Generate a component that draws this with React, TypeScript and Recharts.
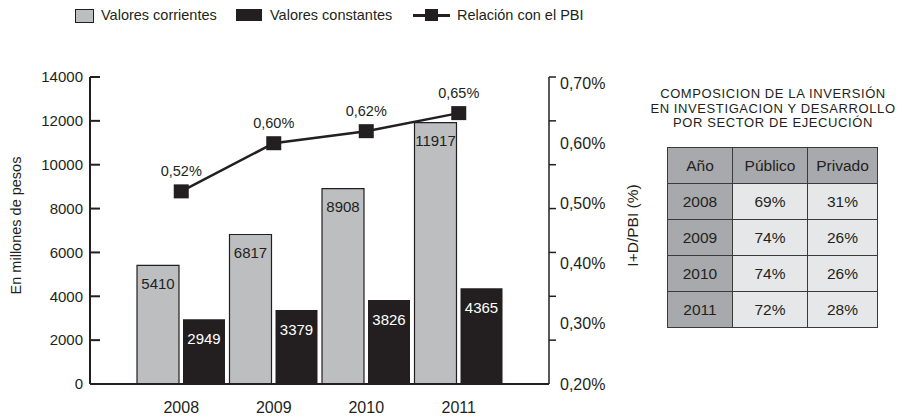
import React from 'react';
import { ComposedChart, Bar, Line, XAxis, YAxis, LabelList, Label } from 'recharts';

const years = ['2008', '2009', '2010', '2011'];
const valoresCorrientes = [5410, 6817, 8908, 11917];
const valoresConstantes = [2949, 3379, 3826, 4365];
const relacionPBI = [0.52, 0.6, 0.62, 0.65];

const leftTicks = [0, 2000, 4000, 6000, 8000, 10000, 12000, 14000];
const rightTicks = [0.2, 0.3, 0.4, 0.5, 0.6, 0.7];

const legendLabels = ['Valores corrientes', 'Valores constantes', 'Relación con el PBI'];

const tablaTitulo = [
  'COMPOSICION DE LA INVERSIÓN',
  'EN INVESTIGACION Y DESARROLLO',
  'POR SECTOR DE EJECUCIÓN',
];
const tablaEncabezados = ['Año', 'Público', 'Privado'];
const tablaAnios = ['2008', '2009', '2010', '2011'];
const tablaPublico = ['69%', '74%', '74%', '72%'];
const tablaPrivado = ['31%', '26%', '26%', '28%'];

const data = years.map((y, i) => ({
  year: y,
  corrientes: valoresCorrientes[i],
  constantes: valoresConstantes[i],
  pbi: relacionPBI[i],
}));

const INK = '#231f20';
const LIGHT = '#bcbec0';
const FONT = '"Liberation Sans", Arial, Helvetica, sans-serif';

const W = 906;
const H = 418;
const MARGIN = { top: 77, right: 267, bottom: 4, left: 5 };
const LEFT_AXIS_W = 85;
const RIGHT_AXIS_W = 90;
const PLOT_RIGHT = W - MARGIN.right - RIGHT_AXIS_W;
const LEFT_TICK_MARGIN = 7;

const fmtPct = (v: number) => v.toFixed(2).replace('.', ',') + '%';

const LeftTick = (props: any) => {
  const { x, y, payload } = props;
  const ax = x + LEFT_TICK_MARGIN;
  return (
    <g>
      <line x1={ax} x2={ax + 10} y1={y} y2={y} stroke={INK} strokeWidth={2} />
      {payload.value !== 0 && (
        <line x1={PLOT_RIGHT} x2={PLOT_RIGHT + 7} y1={y} y2={y} stroke={INK} strokeWidth={1.5} />
      )}
      <text x={x} y={y} dy="0.355em" textAnchor="end" fontSize={15} fill={INK} fontFamily={FONT}>
        {payload.value}
      </text>
    </g>
  );
};

const RightTick = (props: any) => {
  const { x, y, payload } = props;
  return (
    <text x={x} y={y} dy="0.355em" textAnchor="start" fontSize={16} fill={INK} fontFamily={FONT}>
      {fmtPct(payload.value)}
    </text>
  );
};

const SquareDot = (props: any) => {
  const { cx, cy, index } = props;
  if (cx == null || cy == null) return <g key={index} />;
  return <rect key={index} x={cx - 7.5} y={cy - 7} width={15} height={14} fill={INK} />;
};

const Legend = () => (
  <div
    style={{
      position: 'absolute',
      left: 0,
      top: 0,
      width: 700,
      height: 30,
      fontFamily: FONT,
      fontSize: 14.5,
      color: INK,
    }}
  >
    <div style={{ position: 'absolute', left: 75, top: 9, width: 17, height: 12, background: LIGHT, border: `1px solid ${INK}` }} />
    <div style={{ position: 'absolute', left: 101, top: 7, lineHeight: '17px', whiteSpace: 'nowrap' }}>{legendLabels[0]}</div>
    <div style={{ position: 'absolute', left: 236, top: 9, width: 26, height: 12, background: INK }} />
    <div style={{ position: 'absolute', left: 270, top: 7, lineHeight: '17px', whiteSpace: 'nowrap' }}>{legendLabels[1]}</div>
    <div style={{ position: 'absolute', left: 413, top: 14, width: 37, height: 2.5, background: INK }} />
    <div style={{ position: 'absolute', left: 425, top: 9, width: 13, height: 12, background: INK }} />
    <div style={{ position: 'absolute', left: 457, top: 7, lineHeight: '17px', whiteSpace: 'nowrap' }}>{legendLabels[2]}</div>
  </div>
);

const cellBase: React.CSSProperties = {
  border: '1.5px solid #3a3a3a',
  textAlign: 'center',
  height: 35,
  padding: 0,
  fontSize: 15.5,
  color: INK,
};

const Tabla = () => (
  <div style={{ position: 'absolute', left: 640, top: 0, width: 266, fontFamily: FONT, color: INK }}>
    <div
      style={{
        position: 'absolute',
        left: 0,
        top: 87,
        width: 266,
        textAlign: 'center',
        fontSize: 13,
        lineHeight: '14.5px',
        letterSpacing: '0.6px',
        whiteSpace: 'nowrap',
      }}
    >
      {tablaTitulo.map((t) => (
        <div key={t}>{t}</div>
      ))}
    </div>
    <table
      style={{
        position: 'absolute',
        left: 27,
        top: 147,
        borderCollapse: 'collapse',
        fontFamily: FONT,
      }}
    >
      <colgroup>
        <col style={{ width: 65 }} />
        <col style={{ width: 75 }} />
        <col style={{ width: 70 }} />
      </colgroup>
      <thead>
        <tr>
          {tablaEncabezados.map((h) => (
            <td key={h} style={{ ...cellBase, background: '#a7a9ac', fontWeight: 'normal' }}>
              {h}
            </td>
          ))}
        </tr>
      </thead>
      <tbody>
        {tablaAnios.map((a, i) => (
          <tr key={a}>
            <td style={{ ...cellBase, background: '#a7a9ac' }}>{a}</td>
            <td style={{ ...cellBase, background: '#e6e7e8' }}>{tablaPublico[i]}</td>
            <td style={{ ...cellBase, background: '#e6e7e8' }}>{tablaPrivado[i]}</td>
          </tr>
        ))}
      </tbody>
    </table>
  </div>
);

export default function App() {
  return (
    <div style={{ position: 'absolute', left: 0, top: 0, width: W, height: H, background: '#fff', fontFamily: FONT }}>
      <ComposedChart width={W} height={H} data={data} margin={MARGIN} barGap={4} barSize={42}>
        <XAxis
          dataKey="year"
          height={30}
          padding={{ left: 45, right: 44 }}
          tickLine={false}
          tickSize={0}
          tickMargin={18}
          axisLine={{ stroke: INK, strokeWidth: 2 }}
          tick={{ fill: INK, fontSize: 16, fontFamily: FONT }}
        />
        <YAxis
          yAxisId="left"
          orientation="left"
          width={LEFT_AXIS_W}
          domain={[0, 14000]}
          ticks={leftTicks}
          interval={0}
          tickSize={0}
          tickMargin={LEFT_TICK_MARGIN}
          tickLine={false}
          axisLine={{ stroke: INK, strokeWidth: 2 }}
          tick={<LeftTick />}
        >
          <Label
            content={(p: any) => {
              const vb = p.viewBox;
              const cx = vb.x + 11;
              const cy = vb.y + vb.height / 2 - 5;
              return (
                <text
                  x={cx}
                  y={cy}
                  transform={`rotate(-90, ${cx}, ${cy})`}
                  textAnchor="middle"
                  dominantBaseline="central"
                  fontSize={14.5}
                  fill={INK}
                  fontFamily={FONT}
                >
                  En millones de pesos
                </text>
              );
            }}
          />
        </YAxis>
        <YAxis
          yAxisId="right"
          orientation="right"
          width={RIGHT_AXIS_W}
          domain={[0.2, 0.71]}
          ticks={rightTicks}
          interval={0}
          tickSize={0}
          tickMargin={11}
          tickLine={false}
          axisLine={{ stroke: INK, strokeWidth: 1.5 }}
          tick={<RightTick />}
        >
          <Label
            content={(p: any) => {
              const vb = p.viewBox;
              const cx = vb.x + 83;
              const cy = vb.y + vb.height / 2 - 5;
              return (
                <text
                  x={cx}
                  y={cy}
                  transform={`rotate(-90, ${cx}, ${cy})`}
                  textAnchor="middle"
                  dominantBaseline="central"
                  fontSize={15.5}
                  fill={INK}
                  fontFamily={FONT}
                >
                  I+D/PBI (%)
                </text>
              );
            }}
          />
        </YAxis>
        <Bar
          yAxisId="left"
          dataKey="corrientes"
          fill={LIGHT}
          stroke={INK}
          strokeWidth={1.2}
          isAnimationActive={false}
        >
          <LabelList
            dataKey="corrientes"
            position="insideTop"
            offset={13}
            fill={INK}
            fontSize={15}
            fontFamily={FONT}
          />
        </Bar>
        <Bar yAxisId="left" dataKey="constantes" fill={INK} isAnimationActive={false}>
          <LabelList
            dataKey="constantes"
            position="insideTop"
            offset={14}
            fill="#ffffff"
            fontSize={15}
            fontFamily={FONT}
          />
        </Bar>
        <Line
          yAxisId="right"
          dataKey="pbi"
          stroke={INK}
          strokeWidth={2.5}
          dot={<SquareDot />}
          activeDot={false}
          isAnimationActive={false}
        >
          <LabelList
            dataKey="pbi"
            position="top"
            offset={15}
            formatter={(v: any) => fmtPct(Number(v))}
            fill={INK}
            fontSize={14.5}
            fontFamily={FONT}
          />
        </Line>
      </ComposedChart>
      <Legend />
      <Tabla />
    </div>
  );
}
